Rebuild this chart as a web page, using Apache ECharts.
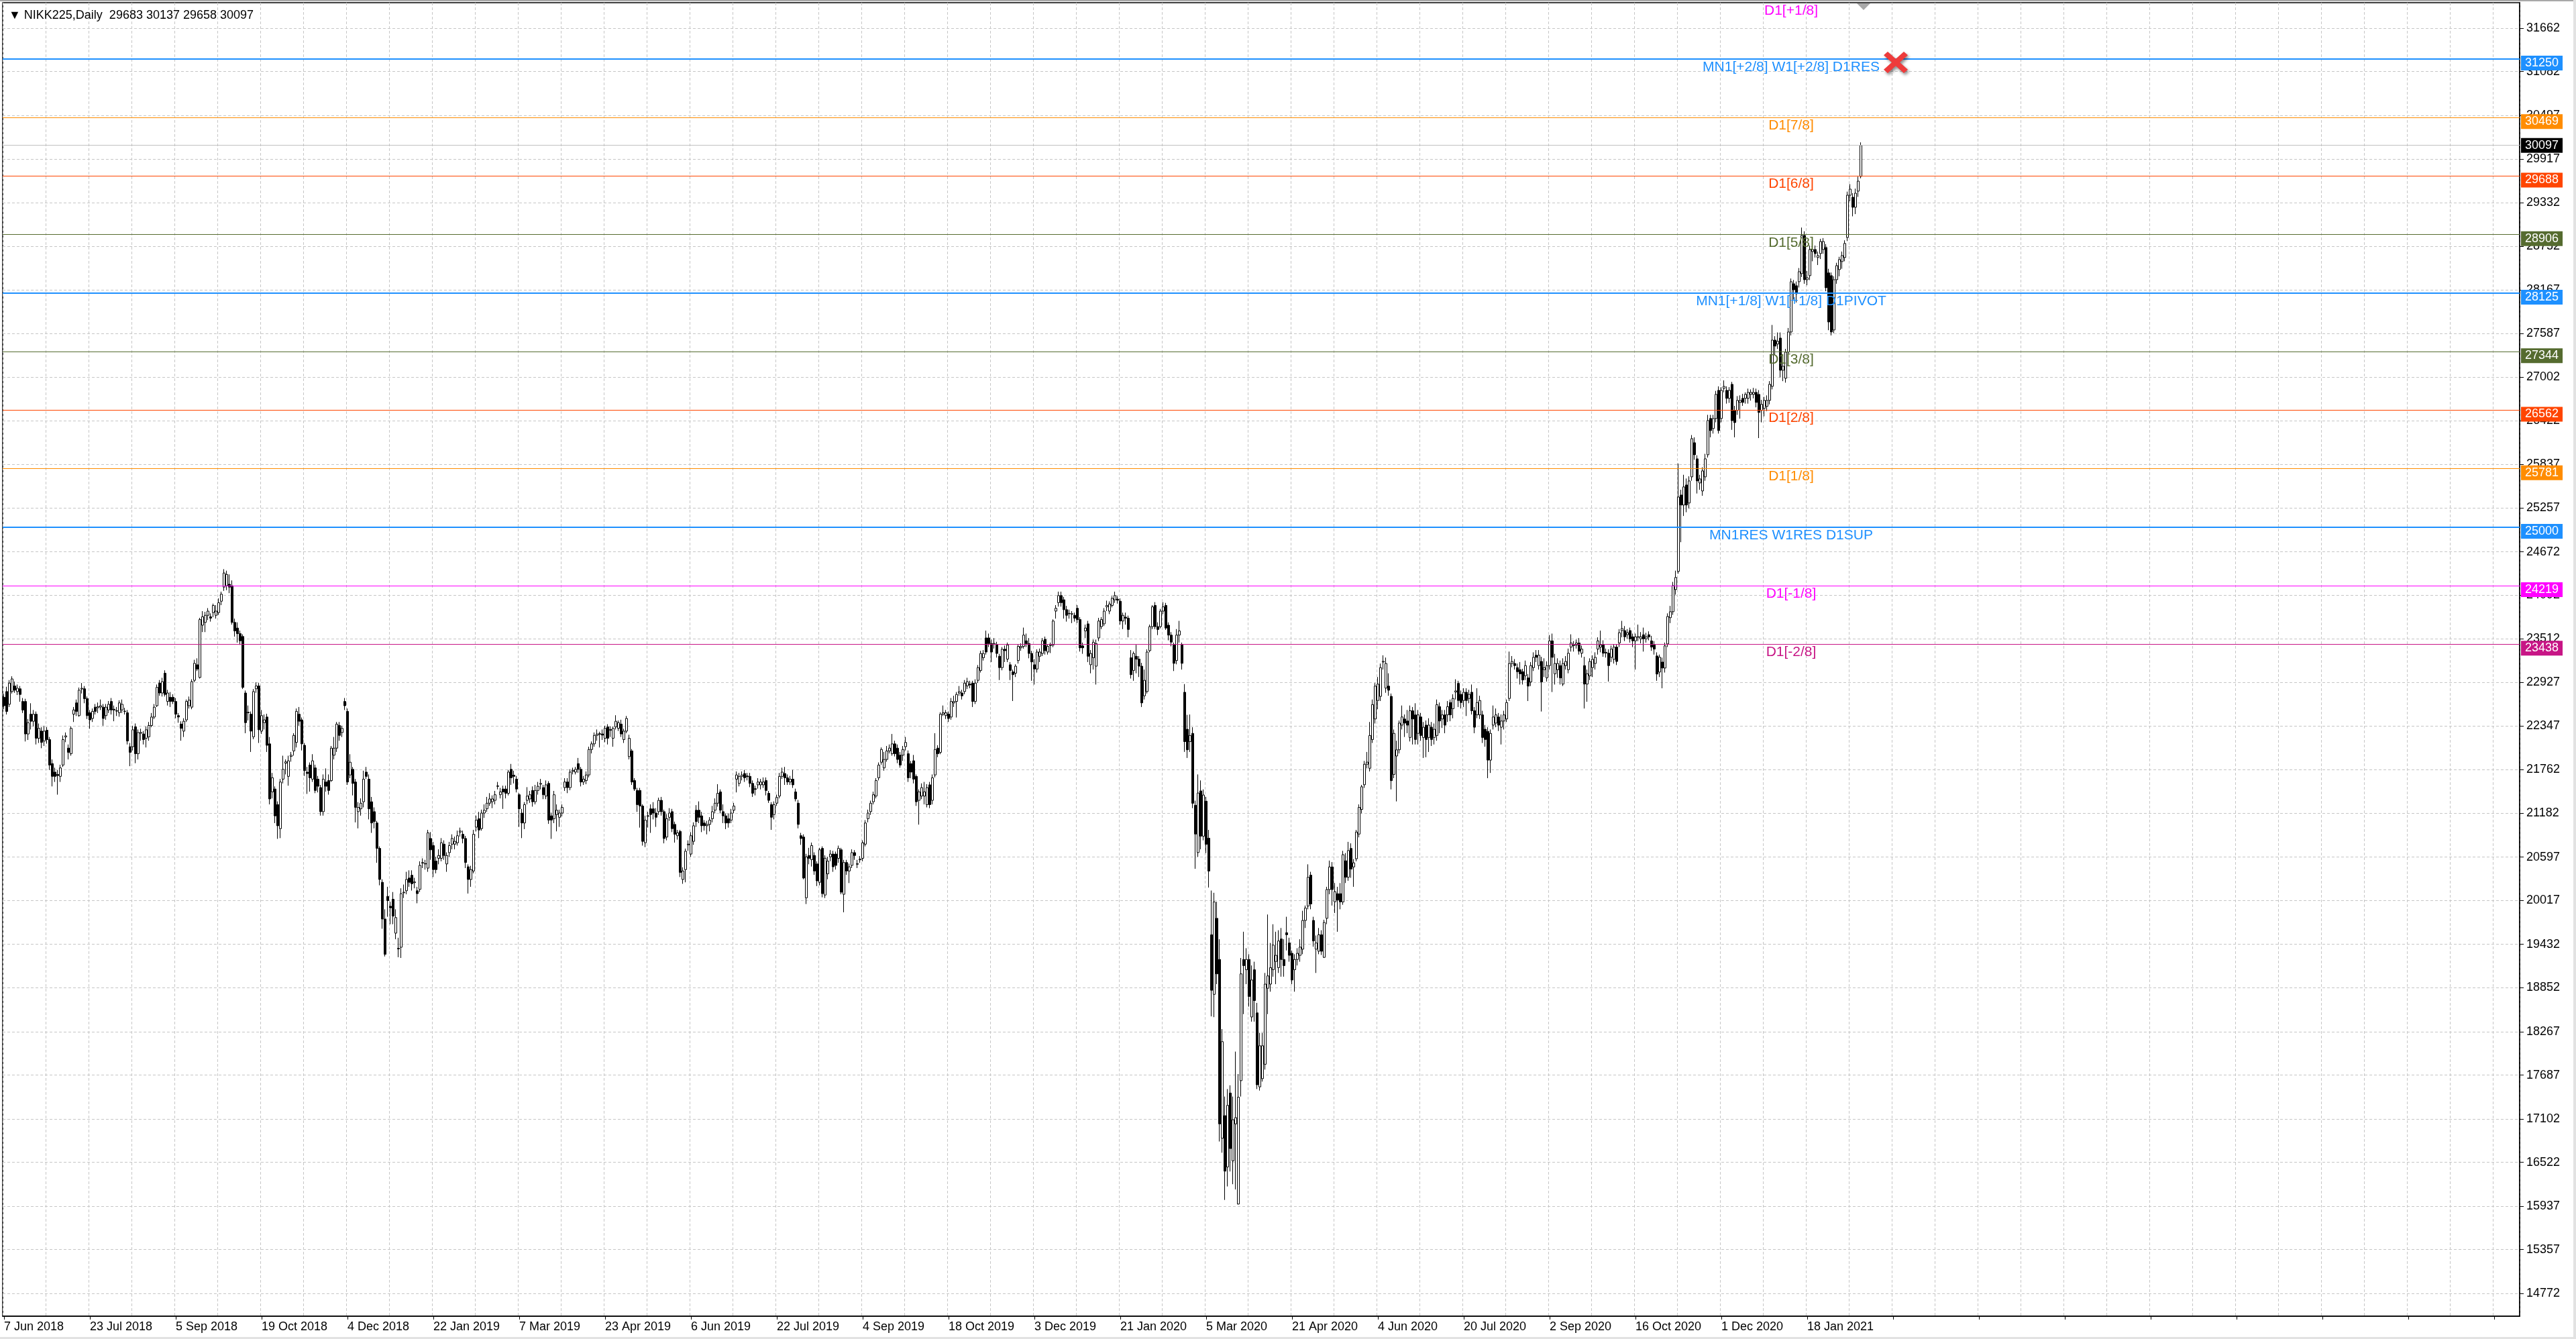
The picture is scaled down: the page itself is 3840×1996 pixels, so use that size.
<!DOCTYPE html>
<html>
<head>
<meta charset="utf-8">
<title>NIKK225 Daily</title>
<script src="https://cdn.jsdelivr.net/npm/echarts@6/dist/echarts.min.js"></script>
<style>
  html, body { margin: 0; padding: 0; background: #fff; }
  #main { width: 3840px; height: 1996px; }
  .frame { position: absolute; background: #a8a8a8; }
</style>
</head>
<body>
<div id="main"></div>
<div class="frame" style="left:0;top:0;width:3840px;height:2px;"></div>
<div class="frame" style="right:0;top:0;width:4px;height:1996px;background:#e2e2e2;"></div>
<div class="frame" style="left:0;bottom:0;width:3840px;height:3px;background:#e2e2e2;"></div>
<script>
// date labels under the axis, one every 32 bars
var dateLabels = ['7 Jun 2018', '23 Jul 2018', '5 Sep 2018', '19 Oct 2018', '4 Dec 2018', '22 Jan 2019',
  '7 Mar 2019', '23 Apr 2019', '6 Jun 2019', '22 Jul 2019', '4 Sep 2019', '18 Oct 2019', '3 Dec 2019',
  '21 Jan 2020', '5 Mar 2020', '21 Apr 2020', '4 Jun 2020', '20 Jul 2020', '2 Sep 2020', '16 Oct 2020',
  '1 Dec 2020', '18 Jan 2021'];

// price scale labels on the right
var priceTicks = [31662, 31082, 30497, 29917, 29332, 28752, 28167, 27587, 27002, 26422, 25837, 25257,
  24672, 24092, 23512, 22927, 22347, 21762, 21182, 20597, 20017, 19432, 18852, 18267, 17687, 17102,
  16522, 15937, 15357, 14772];

// daily candles [open, close, low, high]
var ohlc2018 = [
[22730,22617,22570,22780],[22806,22540,22500,22870],[22636,22919,22600,22960],[22806,22975,22780,23010],
[22881,22825,22790,22940],[22806,22851,22760,22900],[22843,22768,22670,22880],[22674,22560,22520,22720],
[22674,22240,22140,22710],[22240,22391,22160,22440],[22504,22410,22300,22650],[22410,22504,22340,22560],
[22504,22183,22100,22540],[22183,22315,22120,22380],[22278,22127,22050,22330],[22146,22278,22080,22350],
[22290,22165,22110,22330],[22165,21825,21760,22200],[21844,21674,21540,21900],[21731,21674,21600,21790],
[21700,21685,21430,21760],[21674,21787,21600,21830],[21825,22165,21800,22220],[22200,22215,22130,22260],
[22051,21995,21900,22100],[21976,22315,21950,22340],[22504,22561,22400,22600],[22655,22542,22480,22700],
[22485,22825,22470,22860],[22840,22850,22780,22920],[22843,22711,22650,22880],[22711,22485,22440,22740],
[22523,22428,22310,22560],[22447,22542,22400,22580],[22598,22542,22500,22640],[22590,22605,22520,22660],
[22600,22617,22560,22700],[22598,22447,22350,22640],[22485,22598,22430,22640],[22561,22636,22520,22680],
[22674,22561,22500,22720],[22570,22560,22410,22620],[22550,22545,22480,22600],[22523,22655,22470,22690],
[22561,22636,22520,22700],[22540,22545,22500,22590],[22523,22146,22100,22560],[22070,21995,21810,22120],
[22070,22296,22020,22350],[22334,21976,21850,22380],[21976,22259,21900,22300],[22250,22260,22150,22310],
[22240,22165,22100,22280],[22183,22296,22060,22340],[22202,22353,22150,22400],[22353,22466,22330,22520],
[22466,22598,22440,22640],[22617,22862,22600,22900],[22919,22787,22750,22960],[22787,22938,22740,22990],
[23051,22768,22740,23090],[22674,22787,22620,22830],[22730,22674,22600,22800],[22730,22674,22640,22770],
[22674,22504,22450,22720],[22485,22466,22390,22520],[22372,22315,22150,22410],[22278,22410,22200,22450],
[22428,22674,22400,22700],[22617,22692,22580,22740],[22598,22938,22570,22970],[22956,23183,22930,23230],
[23164,23107,23080,23250],[22994,23767,22980,23790],[23692,23805,23600,23880],[23729,23824,23600,23870],
[23824,23880,23760,23920],[23805,23786,23740,23850],[23861,23956,23800,23980],[23824,23880,23780,23960],
[23861,23993,23830,24050],[24012,24106,23960,24140],[24201,24389,24150,24440],[24220,24370,24160,24420],
[24239,24201,24120,24370],[24220,23729,23700,24290],[23729,23616,23540,23780],[23654,23579,23460,23730],
[23579,23484,23430,23620],[23541,22862,22840,23570],[22787,22391,22250,22820],[22530,22523,22420,22620],
[22504,22278,22000,22540],[22202,22806,22170,22840],[22843,22881,22790,22930],[22881,22296,22120,22920],
[22278,22485,22240,22560],[22391,22428,22300,22500],[22466,22089,22000,22510],[22108,21373,21300,22200],
[21467,21656,21380,21720],[21505,21147,21050,21540],[21297,21015,20840,21340],[20976,21599,20850,21640],
[21637,21768,21580,21950],[21850,21868,21700,21900],[21674,21882,21550,21950],[21940,21957,21870,22000],
[22014,22221,21950,22250],[22127,22542,22060,22580],[22504,22410,22350,22600],[22428,22108,22020,22460],
[22089,21750,21680,22120],[21730,21712,21440,21800],[21825,21655,21470,21860],[21637,21882,21600,21970],
[21787,21486,21450,21830],[21637,21542,21460,21680],[21524,21203,21150,21560],[21203,21637,21150,21700],
[21599,21542,21470,21780],[21618,21486,21430,21700],[21618,22051,21600,22080],[21957,22051,21900,22200],
[22051,22372,22000,22400],[22353,22221,22150,22400],[22259,22315,22200,22350],[22674,22617,22560,22720],
[22542,21599,21560,22580],[21693,21863,21650,21970],[21768,21580,21420,21800],[21599,21260,21060,21640],
[21203,21260,20980,21330],[21241,21316,21150,21380],[21335,21637,21260,21750],[21731,21674,21640,21800],
[21637,21241,21100,21700],[21335,21052,20920,21400],[21203,21071,20980,21260],[21052,20713,20520,21080],
[20713,20298,20220,20740],[20260,19770,19640,20300],[19770,19299,19270,19900],[20072,20015,19800,20200],
[19940,19920,19700,20000],[20034,19808,19700,20130]
];
var ohlc2019 = [
[19581,19789,19500,19900],[19380,19370,19260,19520],[19393,20109,19250,20180],[20120,20128,20050,20230],
[20147,20298,20100,20400],[20317,20260,20200,20420],[20354,20241,20150,20420],[20255,20265,20180,20320],
[20147,20109,19980,20200],[20166,20486,20130,20540],[20515,20525,20450,20580],[20510,20505,20430,20560],
[20449,20920,20400,20960],[20845,20694,20560,20930],[20750,20430,20330,20800],[20543,20430,20380,20600],
[20580,20618,20500,20700],[20580,20788,20540,20850],[20769,20618,20560,20820],[20505,20618,20400,20660],
[20656,20750,20600,20800],[20769,20845,20700,20900],[20769,20807,20700,20870],[20788,20882,20750,20950],
[20930,20945,20870,20990],[20901,20845,20780,20950],[20845,20524,20450,20880],[20467,20298,20110,20500],
[20298,20430,20200,20480],[20411,20901,20380,20960],[20996,21090,20940,21150],[21109,20958,20850,21200],
[20977,21184,20950,21230],[21184,21222,21120,21300],[21241,21316,21200,21400],[21316,21373,21280,21450],
[21335,21373,21250,21420],[21354,21429,21300,21480],[21540,21548,21500,21600],[21429,21467,21380,21520],
[21505,21467,21240,21550],[21505,21448,21380,21550],[21448,21731,21420,21760],[21768,21655,21560,21840],
[21690,21674,21580,21750],[21637,21505,21460,21680],[21429,21241,21000,21450],[21184,21052,20850,21240],
[21052,21297,20970,21330],[21354,21411,21300,21530],[21373,21429,21320,21480],[21486,21335,21270,21540],
[21335,21486,21300,21560],[21486,21542,21430,21600],[21570,21580,21500,21640],[21524,21429,21370,21560],
[21411,21561,21370,21620],[21580,21090,21040,21610],[21147,21090,20840,21190],[21109,21429,21050,21480],
[21165,21222,20940,21300],[21128,21184,21000,21230],[21184,21260,21140,21300],[21524,21599,21480,21650],
[21599,21524,21450,21650],[21524,21731,21490,21770],[21740,21755,21700,21790],[21731,21768,21700,21800],
[21844,21768,21720,21920],[21768,21599,21540,21800],[21599,21637,21560,21680],[21618,21693,21570,21740],
[21693,22033,21660,22070],[22033,22108,21980,22140],[22108,22221,22070,22260],[22221,22240,22150,22300],
[22235,22245,22060,22270],[22240,22225,22160,22300],[22183,22315,22130,22350],[22334,22183,22100,22370],
[22290,22300,22200,22340],[22183,22315,22070,22340],[22334,22410,22300,22490],[22315,22391,22280,22420],
[22372,22240,22200,22430],[22165,22278,22120,22310],[22278,22447,22250,22480],[21938,22183,21900,22230],
[22014,21599,21560,22040],[21618,21505,21480,21650],[21486,21297,21200,21520],[21486,21278,20990,21520],
[21278,20807,20750,21300],[20788,21090,20730,21150],[21140,21150,20990,21200],[21241,21165,20920,21300],
[21241,21184,21100,21330],[21184,21128,21000,21250],[21203,21354,21160,21390],[21354,21203,21150,21400],
[21203,20845,20780,21230],[20864,21109,20820,21170],[21128,21184,21080,21250],[21203,20977,20930,21240],
[21033,20901,20790,21070],[20882,20920,20830,20960],[20939,20392,20330,20960],[20298,20411,20240,20460],
[20430,20675,20260,20710],[20760,20770,20680,20820],[20637,20882,20600,20930],[20807,21015,20760,21060],
[21222,21071,21000,21290],[21222,21128,21050,21340],[21147,21015,20930,21200],[21052,21015,20950,21090],
[21015,21033,20900,21080],[21033,21090,20940,21130],[21109,21203,21060,21280],[21222,21316,21180,21380],
[21316,21448,21270,21570],[21467,21222,21180,21500],[21203,21147,21050,21300],[21147,21052,20970,21180],
[21109,21052,20990,21180],[21090,21184,21050,21240],[21222,21278,21180,21320],[21637,21693,21460,21740],
[21580,21674,21540,21720],[21674,21693,21620,21740],[21712,21655,21600,21760],[21680,21670,21620,21720],
[21674,21580,21530,21720],[21580,21448,21400,21620],[21510,21500,21420,21550],[21561,21599,21510,21650],
[21561,21599,21500,21640],[21561,21599,21520,21660],[21618,21486,21420,21660],[21448,21354,21320,21480],
[21297,21128,20960,21330],[21165,21297,21100,21340],[21316,21392,21280,21430],[21411,21674,21380,21720],
[21674,21731,21640,21790],[21712,21655,21560,21800],[21655,21599,21560,21700],[21599,21637,21560,21680],
[21637,21561,21520,21760],[21467,21373,21340,21510],[21316,21033,20980,21360],[20882,20845,20760,20920],
[20864,20317,20300,20900],[20053,20600,19970,20640],[20618,20580,20500,20720],[20562,20750,20470,20790],
[20618,20411,20360,20660],[20505,20279,20210,20540],[20260,20694,20220,20720],[20713,20109,20060,20740],
[20090,20581,20050,20620],[20373,20543,20300,20600],[20600,20637,20540,20690],[20637,20467,20400,20680],
[20637,20486,20430,20670],[20580,20713,20520,20750],[20694,20128,20100,20720],[20100,20524,19860,20560],
[20524,20411,20360,20560],[20411,20467,20250,20510],[20486,20656,20450,20700],[20656,20618,20560,20690],
[20500,20510,20450,20560],[20560,20570,20520,20610],[20580,20788,20540,20820],[20769,21052,20740,21090],
[21109,21184,21060,21230],[21203,21316,21160,21350],[21335,21429,21300,21470],[21411,21618,21380,21650],
[21655,21825,21620,21860],[21863,22033,21830,22060],[21787,21900,21750,22000],[21900,22014,21870,22080],
[22014,22051,21980,22100],[21976,22108,21950,22240],[22108,21976,21940,22150],[22051,21900,21850,22100],
[21957,21825,21790,22000],[21957,22033,21880,22080],[22070,22127,22020,22200],[21976,21655,21600,22020],
[21844,21731,21650,21880],[21882,21637,21580,21960],[21674,21335,21280,21700],[21354,21467,21030,21500],
[21411,21524,21370,21580],[21411,21467,21300,21600],[21297,21524,21260,21570],[21561,21297,21250,21600],
[21354,21655,21300,21700],[21693,22033,21660,22250],[22051,21976,21930,22090],[21995,22504,21970,22530],
[22504,22523,22480,22620],[22485,22523,22440,22560],[22504,22447,22400,22540],[22466,22674,22430,22720],
[22655,22674,22600,22750],[22674,22768,22460,22800],[22787,22806,22750,22880],[22787,22749,22700,22830],
[22806,22919,22770,22960],[22881,22938,22840,22990],[22905,22895,22850,22950],[22919,22674,22600,22950],
[22674,22919,22640,22970],[22956,23126,22920,23160],[23088,23315,23060,23350],[23258,23315,23220,23360],
[23522,23334,23300,23620],[23522,23447,23400,23580],[23447,23334,23200,23500],[23440,23450,23380,23520],
[23428,23315,23260,23470],[23277,23126,22960,23310],[23126,23371,23090,23400],[23371,23352,23200,23420],
[23239,23428,23200,23460],[23164,23088,22960,23200],[23069,23032,22680,23100],[23051,23145,23000,23170],
[23220,23409,23180,23440],[23390,23409,23350,23450],[23409,23560,23380,23660],[23484,23447,23400,23580],
[23447,23315,23250,23520],[23315,23202,22950,23350],[23164,23107,22900,23240],[23107,23334,23060,23370],
[23277,23334,23200,23380],[23315,23484,23280,23520],[23503,23352,23300,23540],[23334,23409,23300,23440],
[23420,23430,23320,23460],[23428,23748,23400,23770],[23880,23918,23780,23960],[23993,24087,23940,24140],
[24087,23993,23940,24140],[24031,23899,23780,24070],[23899,23824,23740,23950],[23850,23845,23780,23900],
[23840,23845,23720,23880],[23824,23786,23740,23860],[23918,23767,23720,23960],[23767,23390,23340,23800],
[23416,23390,23310,23460],[23616,23654,23520,23700]
];
var ohlc2020 = [
[23710,23277,23200,23750],[23164,23315,23050,23360],[23258,23465,23100,23500],[23145,23447,22900,23500],
[23522,23748,23480,23790],[23673,23767,23640,23800],[23710,23880,23680,23920],[23937,23956,23880,24020],
[23880,23975,23840,24010],[23956,24050,23930,24080],[24031,24087,23990,24140],[24040,24025,23980,24080],
[24012,23748,23700,24050],[23748,23824,23640,23860],[23800,23786,23700,23860],[23786,23635,23530,23820],
[23258,23032,22980,23360],[23088,23315,22950,23340],[23277,23239,23050,23430],[23239,23145,23000,23280],
[23145,22655,22600,23190],[22749,22956,22700,23100],[22806,23334,22780,23370],[23352,23673,23330,23700],
[23673,23937,23640,23960],[23956,23673,23640,24000],[23673,23635,23560,23730],[23673,23880,23650,23910],
[23880,23937,23840,24000],[23956,23654,23630,23990],[23692,23560,23490,23730],[23560,23466,23410,23600],
[23428,23183,23080,23460],[23220,23560,23170,23640],[23560,23616,23460,23750],[23428,23183,23100,23460],
[22797,22138,22001,22906],[22303,22029,21920,22495],[22138,22220,22000,22500],[22248,21315,21250,22330],
[21288,20904,20440,21350],[20657,21452,20600,21700],[21480,20876,20700,21620],[20876,21425,20820,21500],
[21343,20767,20650,21400],[20849,20410,20190,20960],[19559,18819,18470,20150],[18764,19998,18460,20120],
[19779,19038,18900,20000],[19230,17035,16800,19500],[16843,18133,16650,18300],[17145,16404,16020,17400],
[16459,17282,16200,17500],[17447,16706,16400,17550],[16541,17090,16230,17400],[17035,17118,16160,18000],
[15965,17392,15960,17700],[17612,19038,17400,19250],[19230,19148,18500,19600],[19093,19230,18900,19380],
[19230,18736,18600,19300],[18462,18956,18400,19150],[19093,18681,18400,19200],[18517,17557,17500,18650],
[17529,18078,17480,18250],[17639,18078,17600,18250],[17831,18901,17760,19050],[18846,19011,18500,19830],
[18901,19120,18800,19450],[19093,19422,19000,19700],[19203,19285,18900,19600],[19120,19477,19050,19620],
[19504,19230,19000,19650],[19230,19148,19000,19500],[19587,19560,19350,19800],[19450,19285,19200,19520],
[19312,18956,18900,19350],[19093,19230,18800,19300],[19230,19312,19150,19380],[19285,19395,19200,19500],
[19367,19751,19300,19880],[19751,19916,19650,19950],[19943,20327,19900,20500],[20355,19971,19900,20400],
[19751,19477,19400,19800],[19367,19450,19050,19550],[19340,19559,19300,19650],[19559,19340,19290,19620],
[19258,19724,19250,19760],[19779,20163,19700,20200],[20163,20465,20100,20550],[20465,20163,19950,20530],
[20000,20135,19850,20250],[20108,20025,19600,20200],[20108,19998,19900,20250],[19998,20629,19960,20680],
[20547,20327,20250,20650],[20327,20684,20280,20800],[20712,20437,20320,20780],[20465,20520,20200,20570],
[20574,20931,20540,20960],[20904,21260,20860,21300],[21233,21535,21180,21560],[21562,21836,21520,21880],
[21836,21864,21780,22000],[21782,22220,21740,22400],[22166,22632,22120,22700],[22440,22879,22380,22920],
[22687,22906,22570,23000],[22742,23126,22680,23180],[23200,23210,23100,23290],[22852,23181,22790,23260],
[22879,22824,22750,23050],[22742,21617,21500,22780],[21700,22248,21650,22300],[21946,22028,21340,22150],
[22029,22385,21980,22420],[22358,22467,22300,22620],[22440,22385,22200,22500],[22413,22358,22250,22560],
[22193,22550,22140,22620],[22550,22440,22100,22600],[22495,22166,22100,22650],[22248,22495,22100,22560],
[22467,22220,22150,22520],[22193,22330,21920,22400],[22358,22166,21930,22420],[22193,22358,22000,22450],
[22330,22166,22080,22400],[22193,22303,22100,22380],[22220,22632,22150,22700],[22605,22413,22250,22660],
[22440,22495,22320,22560],[22495,22358,22250,22560],[22495,22605,22400,22680],[22660,22495,22410,22700],
[22577,22714,22450,22770],[22800,22815,22700,22970],[22915,22687,22600,22950],[22769,22660,22580,22820],
[22687,22797,22600,22850],[22797,22687,22480,22850],[22714,22769,22650,22830],[22797,22550,22500,22900],
[22550,22330,22250,22600],[22495,22660,22450,22850],[22495,22687,22440,22750],[22495,22193,22120,22550],
[22303,22166,22070,22360],[22275,21891,21650,22330],[21891,22248,21720,22300],[22358,22467,22300,22620],
[22385,22495,22330,22580],[22467,22358,22280,22520],[22330,22413,22100,22500],[22413,22495,22300,22550],
[22440,22660,22400,22700],[22714,23181,22680,23340],[23181,23208,23130,23280],[23181,23153,23100,23240],
[23126,23071,22980,23180],[23098,23043,22900,23200],[23071,22961,22900,23110],[23016,23153,22960,23220],
[22989,22879,22680,23040],[22934,23153,22880,23200],[23126,23263,23080,23330],[23291,23263,23200,23360],
[23153,23291,23100,23360],[23208,22934,22540,23270],[23098,23126,23000,23250],[22989,23153,22940,23210],
[23153,23483,23100,23560],[23483,23263,22800,23580],[23043,23181,22900,23310],[23098,23181,22990,23250],
[23153,22989,22900,23220],[22906,23181,22880,23250],[23153,23208,23100,23280],[23098,23318,23050,23380],
[23400,23455,23340,23570],[23420,23430,23340,23480],[23428,23455,23380,23500],[23455,23345,23300,23520],
[23318,23373,23260,23420],[23153,22906,22580,23270],[22906,23043,22670,23100],[23016,23208,22960,23250],
[23126,23236,23000,23290],[23181,23263,23100,23330],[23373,23483,23300,23530],[23400,23428,23330,23620],
[23428,23318,23270,23490],[23330,23320,23260,23380],[23318,23153,22940,23370],[23263,23373,23200,23420],
[23236,23400,23180,23440],[23400,23208,23160,23440],[23455,23592,23400,23640],[23620,23647,23530,23750],
[23620,23537,23480,23680],[23565,23592,23510,23640],[23620,23510,23460,23660],[23537,23483,23400,23580],
[23483,23537,23100,23580],[23530,23540,23480,23700],[23510,23537,23450,23600],[23565,23510,23340,23660],
[23510,23537,23460,23590],[23565,23537,23490,23610],[23483,23400,23350,23550],[23428,23373,23300,23480],
[23281,23040,22950,23330],[23066,23265,23000,23300],[23200,23120,22850,23260],[23120,23416,23060,23460],
[23442,23808,23400,23850],[23792,23872,23720,23950],[23872,24221,23830,24270],[24168,24329,24100,24420],
[24410,25403,24380,25850],[25430,25296,24800,25500],[25296,25538,25150,25700],[25564,25296,25200,25650],
[25323,25618,25250,25680],[25672,26182,25620,26230],[26128,25967,25900,26200],[25913,25618,25450,25960],
[25591,25645,25500,25700],[25484,25752,25420,25800],[25672,25913,25620,25980],[25967,26424,25930,26500],
[26451,26290,26200,26500],[26317,26451,26250,26500],[26451,26773,26400,26820],[26827,26290,26250,26880],
[26451,26827,26400,26870],[26854,26880,26800,26960],[26827,26720,26650,26880],[26720,26827,26660,26870],
[26907,26424,26300,26940],[26559,26397,26200,26620],[26559,26693,26500,26750],[26666,26693,26450,26760],
[26720,26666,26620,26780],[26720,26773,26650,26800],[26720,26800,26650,26850],[26773,26800,26690,26840],
[26773,26800,26720,26860],[26800,26666,26600,26850],[26773,26532,26190,26830],[26559,26640,26400,26700],
[26586,26693,26480,26740],[26613,26693,26550,26760],[26693,26907,26640,26950],[26880,27498,26840,27700],
[27498,27418,27300,27550],[27445,27482,27380,27600]
];
var ohlc2021 = [
[27525,27095,27000,27600],[27095,27149,26950,27200],[26988,27337,26930,27380],[27337,27606,27280,27660],
[27606,28277,27560,28320],[28250,28170,28040,28300],[28224,28116,28000,28280],[28277,28411,28200,28460],
[28385,28895,28340,29000],[28895,28304,28250,28950],[28304,28330,28230,28420],[28358,28707,28300,28760],
[28680,28707,28550,28800],[28707,28653,28600,28760],[28600,28626,28500,28680],[28653,28814,28580,28850],
[28707,28814,28650,28860],[28734,28197,28150,28780],[28395,27740,27630,28450],[28358,27606,27560,28400],
[27633,28304,27590,28350],[28304,28492,28250,28530],[28439,28573,28350,28610],[28546,28626,28450,28680],
[28600,28788,28550,28830],[28868,29432,28820,29480],[29432,29513,29350,29580],[29405,29271,29150,29460],
[29271,29459,29180,29520],[29486,29620,29410,29680],[29683,30097,29658,30137]
];

// murrey levels drawn as horizontal lines
var levelPrices = [32031, 31250, 30469, 29688, 28906, 28125, 27344, 26562, 25781, 25000, 24219, 23438];
var levelNames = ['D1[+1/8]', 'MN1[+2/8] W1[+2/8] D1RES', 'D1[7/8]', 'D1[6/8]', 'D1[5/8]',
  'MN1[+1/8] W1[+1/8] D1PIVOT', 'D1[3/8]', 'D1[2/8]', 'D1[1/8]', 'MN1RES W1RES D1SUP', 'D1[-1/8]', 'D1[-2/8]'];
var levelColors = ['#FF00FF', '#1E90FF', '#FF8C00', '#FF4500', '#556B2F', '#1E90FF', '#556B2F',
  '#FF4500', '#FF8C00', '#1E90FF', '#FF00FF', '#C71585'];

var yMin = 14468, yMax = 32002;
var slotCount = 938;     // bars + chart shift space
var labelBar = 666;      // where the level captions sit
var resMarkBar = 705;    // red cross next to D1RES
var axisFont = '"Liberation Sans", Arial, sans-serif';

var candles = ohlc2018.concat(ohlc2019, ohlc2020, ohlc2021);
var last = candles[candles.length - 1];

var slots = [];
for (var i = 0; i < slotCount; i++) slots.push(String(i));

var lineItems = [];
var textItems = [];
levelPrices.forEach(function (p, k) {
  var blue = levelColors[k] === '#1E90FF';
  if (p <= yMax) {
    lineItems.push({
      yAxis: p,
      lineStyle: { color: levelColors[k], width: blue ? 2 : 1, type: 'solid' },
      label: {
        show: true, position: 'end', distance: 2, offset: [0, 6], formatter: String(p),
        backgroundColor: levelColors[k], color: '#fff', padding: [2, 6, 2, 6],
        fontSize: 18, fontFamily: axisFont
      }
    });
  }
  textItems.push({
    coord: [labelBar, Math.min(p, yMax)],
    symbol: 'circle', symbolSize: 0,
    label: {
      show: true, position: 'inside', offset: [0, 12], formatter: levelNames[k],
      color: levelColors[k], fontSize: 21, fontFamily: axisFont
    }
  });
});
// current price
lineItems.push({
  yAxis: last[1],
  lineStyle: { color: '#c0c0c0', width: 1, type: 'solid' },
  label: {
    show: true, position: 'end', distance: 2, formatter: String(last[1]),
    backgroundColor: '#000', color: '#fff', padding: [2, 6, 2, 6],
    fontSize: 18, fontFamily: axisFont
  }
});
// red cross on the resistance line
textItems.push({
  coord: [resMarkBar, levelPrices[1]],
  symbol: 'path://M3,0 L9,6 L15,0 L18,3 L12,9 L18,15 L15,18 L9,12 L3,18 L0,15 L6,9 L0,3 Z',
  symbolSize: [36, 32], symbolOffset: [0, 5],
  itemStyle: { color: '#ee3b3b', shadowBlur: 4, shadowColor: 'rgba(0,0,0,0.45)', shadowOffsetX: 2, shadowOffsetY: 3 },
  label: { show: false }
});
// chart shift marker
textItems.push({
  coord: [candles.length, yMax],
  symbol: 'triangle', symbolRotate: 180, symbolSize: [20, 10], symbolOffset: [0, 6],
  itemStyle: { color: '#a8a8a8' },
  label: { show: false }
});

var chart = echarts.init(document.getElementById('main'), null, { renderer: 'canvas' });

chart.setOption({
  animation: false,
  backgroundColor: '#fff',
  title: {
    text: '\u25BC NIKK225,Daily  ' + last[0] + ' ' + last[3] + ' ' + last[2] + ' ' + last[1],
    left: 8, top: 9,
    textStyle: { fontSize: 18, fontWeight: 'normal', color: '#000', fontFamily: axisFont }
  },
  grid: {
    left: 4, top: 4, right: 84, bottom: 34,
    show: true, borderColor: '#000', borderWidth: 1.5
  },
  xAxis: {
    type: 'category',
    data: slots,
    boundaryGap: true,
    axisLine: { show: true, lineStyle: { color: '#000', width: 1.5 } },
    axisTick: { show: true, interval: 31, length: 5, alignWithLabel: true, lineStyle: { color: '#000' } },
    axisLabel: {
      interval: 31, align: 'left', margin: 7, color: '#000', fontSize: 18, fontFamily: axisFont,
      formatter: function (v, idx) {
        return idx % 32 === 0 ? (dateLabels[idx / 32] || '') : '';
      }
    },
    splitLine: { show: true, interval: 15, lineStyle: { color: '#c6c6c6', width: 1, type: [4, 3] } }
  },
  yAxis: {
    type: 'value',
    position: 'right',
    min: yMin,
    max: yMax,
    scale: true,
    axisLine: { show: true, lineStyle: { color: '#000', width: 1.5 } },
    axisTick: { show: true, length: 6, customValues: priceTicks, lineStyle: { color: '#000' } },
    axisLabel: {
      customValues: priceTicks, margin: 10, color: '#000', fontSize: 18, fontFamily: axisFont,
      formatter: function (v) { return String(v); }
    },
    splitLine: { show: true, lineStyle: { color: '#c6c6c6', width: 1, type: [4, 3] } }
  },
  series: [{
    type: 'candlestick',
    data: candles,
    large: false,
    barWidth: 3,
    itemStyle: {
      color: '#ffffff', color0: '#000000',
      borderColor: '#000000', borderColor0: '#000000', borderWidth: 1
    },
    markLine: {
      silent: true,
      symbol: ['none', 'none'],
      animation: false,
      data: lineItems
    },
    markPoint: {
      silent: true,
      animation: false,
      data: textItems
    }
  }]
});
</script>
</body>
</html>
